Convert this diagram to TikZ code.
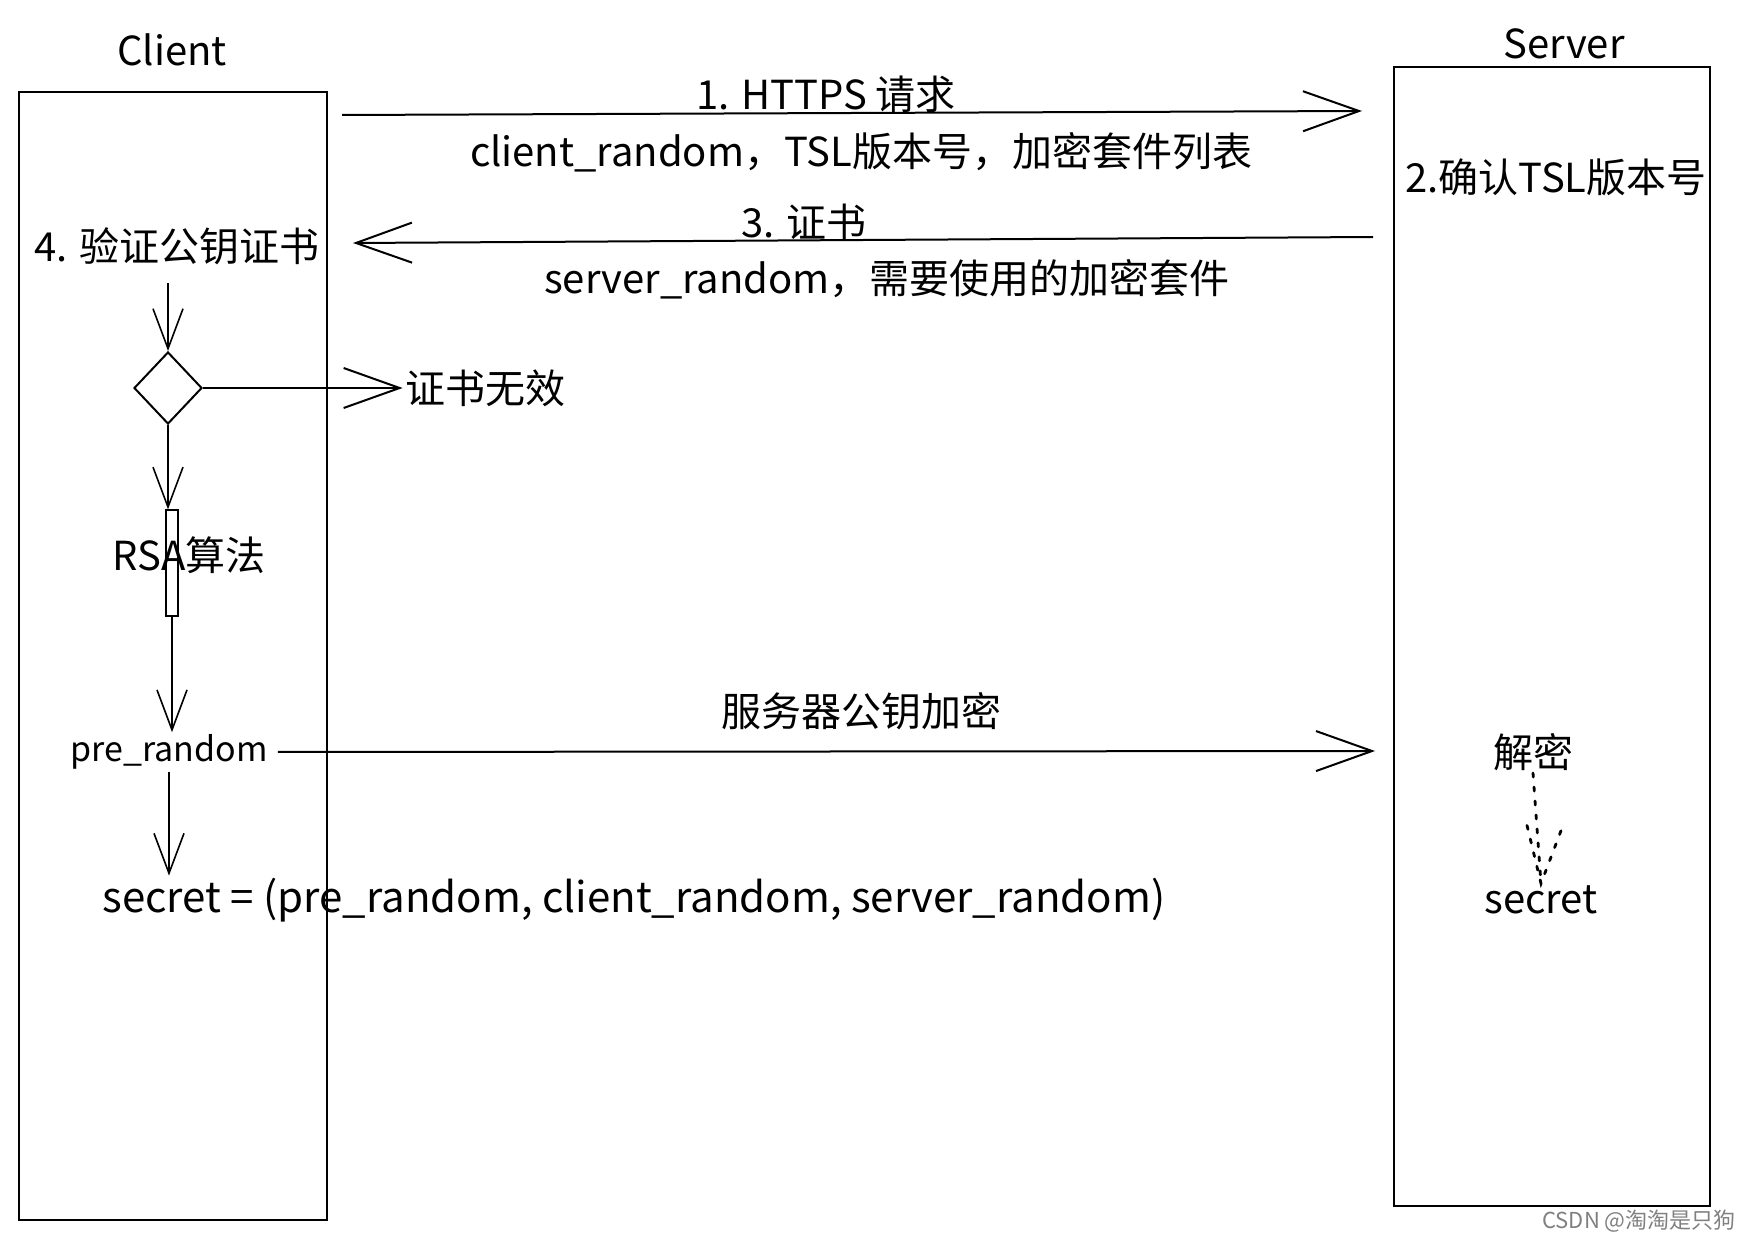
\documentclass[tikz,border=0pt]{standalone}
\usepackage{fontspec}
\setmainfont{Noto Sans CJK SC}
\usetikzlibrary{arrows.meta,shapes.geometric}

\begin{document}
\begin{tikzpicture}[x=0.5pt,y=-0.5pt,
  txt/.style={font=\fontsize{20}{24}\selectfont,inner sep=1pt},
  lane/.style={line width=1.4pt},
  msg/.style={line width=1pt,-{Straight Barb[length=28pt,width=20pt]}},
  flow/.style={line width=0.8pt,-{Straight Barb[length=20pt,width=15pt]}},
  dots/.style={line width=1.4pt,dash pattern=on 2pt off 5pt,line cap=round}]
\useasboundingbox (0,0) rectangle (1739,1241);
\draw[lane] (19,92) rectangle (327,1220);
\draw[lane] (1394,67) rectangle (1710,1206);
\coordinate (reqA) at (342,115);
\coordinate (reqB) at (1362,111);
\coordinate (certA) at (1373,237);
\coordinate (certB) at (353,243);
\coordinate (encB) at (1375,751);
\node[txt] (client) at (172,50) {Client};
\node[txt] (server) at (1564,44) {Server};
\node[txt] (req) at (826,94) {1. HTTPS 请求};
\node[txt] (reqinfo) at (861,152) {client\_random，TSL版本号，加密套件列表};
\node[txt] (tsl) at (1556,177) {2.确认TSL版本号};
\node[txt] (cert) at (804,222) {3. 证书};
\node[txt] (certinfo) at (887,279) {server\_random，需要使用的加密套件};
\node[txt] (verify) at (177,246) {4. 验证公钥证书};
\node[draw,diamond,line width=1pt,minimum width=34pt,minimum height=36pt,inner sep=0pt] (check) at (168,388) {};
\node[txt] (invalid) at (485,388) {证书无效};
\node[draw,line width=0.6pt,minimum width=6pt,minimum height=53pt,inner sep=0pt] (rsabox) at (172,563) {};
\node[txt] (rsa) at (189,555) {RSA算法};
\node[txt,font=\fontsize{17}{20}\selectfont] (pre) at (169,752) {pre\_random};
\node[txt] (enc) at (861,711) {服务器公钥加密};
\node[txt] (decrypt) at (1533,752) {解密};
\node[txt,font=\fontsize{21}{25}\selectfont] (secret) at (634,900) {secret = (pre\_random, client\_random, server\_random)};
\node[txt] (srvsecret) at (1541,900) {secret};
\node[font=\fontsize{11}{13}\selectfont,text=gray] (mark) at (1639,1221) {CSDN @淘淘是只狗};
\draw[msg] (reqA)--(reqB);
\draw[msg] (certA)--(certB);
\draw[flow,shorten <=8pt] (check.north |- verify.south)--(check.north);
\draw[msg] (check.east)--(invalid.west);
\draw[flow] (check.south)--(check.south |- rsabox.north);
\draw[flow] (rsabox.south)--(rsabox.south |- pre.north);
\draw[flow] (pre.south)--(pre.south |- secret.north);
\draw[msg,shorten <=4pt] (pre.east)--(encB);
\draw[dots] (decrypt.south)--(srvsecret.north);
\draw[dots] (srvsecret.north) ++(-14,-58) -- (srvsecret.north) -- ++(22,-58);
\end{tikzpicture}
\end{document}
